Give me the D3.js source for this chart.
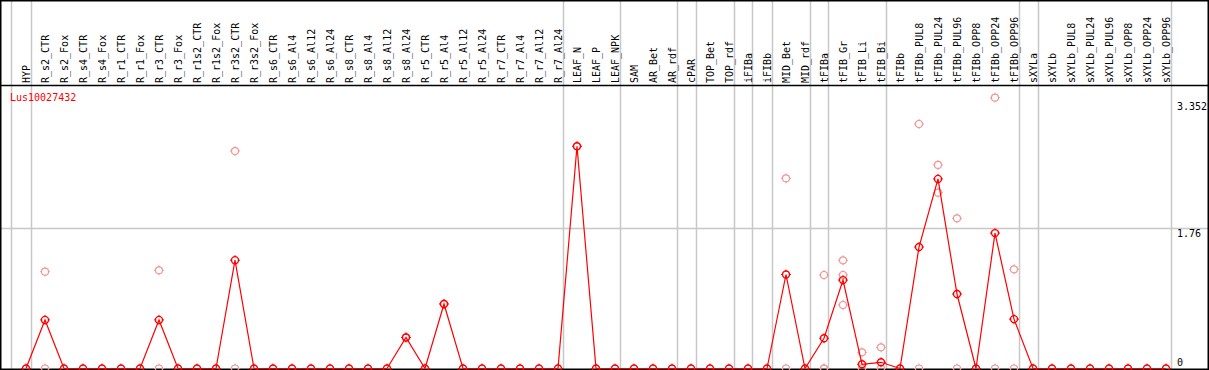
<!DOCTYPE html>
<html>
<head>
<meta charset="utf-8">
<script src="https://cdn.jsdelivr.net/npm/d3@7"></script>
<style>
  body { margin: 0; background: #fff; }
  text { font-family: "DejaVu Sans Mono", monospace; font-size: 10px; }
</style>
</head>
<body>
<svg id="chart"></svg>
<script>
// sample names (columns)
var samples = ["HYP",
    "R_s2_CTR", "R_s2_Fox", "R_s4_CTR", "R_s4_Fox", "R_r1_CTR", "R_r1_Fox", "R_r3_CTR", "R_r3_Fox",
    "R_r1s2_CTR", "R_r1s2_Fox", "R_r3s2_CTR", "R_r3s2_Fox",
    "R_s6_CTR", "R_s6_Al4", "R_s6_Al12", "R_s6_Al24", "R_s8_CTR", "R_s8_Al4", "R_s8_Al12", "R_s8_Al24",
    "R_r5_CTR", "R_r5_Al4", "R_r5_Al12", "R_r5_Al24", "R_r7_CTR", "R_r7_Al4", "R_r7_Al12", "R_r7_Al24",
    "LEAF_N", "LEAF_P", "LEAF_NPK", "SAM", "AR_Bet", "AR_rdf", "cPAR", "TOP_Bet", "TOP_rdf",
    "iFIBa", "iFIBb", "MID_Bet", "MID_rdf", "tFIBa", "tFIB_Gr", "tFIB_Li", "tFIB_Bi",
    "tFIBb", "tFIBb_PUL8", "tFIBb_PUL24", "tFIBb_PUL96", "tFIBb_OPP8", "tFIBb_OPP24", "tFIBb_OPP96",
    "sXYLa", "sXYLb", "sXYLb_PUL8", "sXYLb_PUL24", "sXYLb_PUL96", "sXYLb_OPP8", "sXYLb_OPP24", "sXYLb_OPP96"];

// mean expression per sample (red line)
var meanValues = [0,
    0.61, 0, 0, 0, 0, 0, 0.61, 0,
    0, 0, 1.36, 0,
    0, 0, 0, 0, 0, 0, 0, 0.39,
    0, 0.81, 0, 0, 0, 0, 0, 0,
    2.79, 0, 0, 0, 0, 0, 0, 0, 0,
    0, 0, 1.18, 0, 0.38, 1.11, 0.053, 0.078,
    0, 1.525, 2.38, 0.935, 0, 1.70, 0.62,
    0, 0, 0, 0, 0, 0, 0, 0];

// replicate values (pink circles): sample index + value
var repIndex = [1, 1, 7, 7, 11, 11, 20, 22, 29, 40, 40, 42, 42, 42, 43, 43, 43,
    44, 44, 45, 45, 47, 47, 48, 48, 49, 49, 51, 51, 52, 52];
var repValue = [1.215, 0, 1.233, 0, 2.73, 0, 0.39, 0.81, 2.79, 2.387, 0, 1.174, 0, 0, 1.358, 1.174, 0.797,
    0.203, 0, 0.266, 0, 3.069, 0, 2.555, 2.207, 1.885, 0, 3.40, 0, 1.245, 0];

// separators drawn after these column indexes
var groupEnds = [-1, 0, 28, 31, 34, 35, 37, 38, 39, 41, 42, 45, 52, 53, 60];

var yTicks = [0, 1.76, 3.352];
var geneName = "Lus10027432";

var width = 1209, height = 370,
    headerBottom = 85, plotBottom = 368.5;

var svg = d3.select("#chart")
    .attr("width", width)
    .attr("height", height);

var x = d3.scaleLinear().domain([0, samples.length - 1]).range([26, 26 + 19 * (samples.length - 1)]);
var y = d3.scaleLinear().domain([0, 3.352]).range([plotBottom, plotBottom - 3.352 * 79.66]);

// group separators
svg.selectAll(".sep")
    .data(groupEnds)
    .enter().append("line")
    .attr("x1", function (d) { return Math.round(x(d) + 4.5) + 0.5; })
    .attr("x2", function (d) { return Math.round(x(d) + 4.5) + 0.5; })
    .attr("y1", 0).attr("y2", 369)
    .attr("stroke", "#c8c8c8").attr("stroke-width", 1.5);

// horizontal grid at middle tick
svg.append("line")
    .attr("x1", 0).attr("x2", width)
    .attr("y1", Math.round(y(1.76)) + 0.5).attr("y2", Math.round(y(1.76)) + 0.5)
    .attr("stroke", "#c8c8c8").attr("stroke-width", 1.5);

// frame
svg.append("line").attr("x1", 0).attr("x2", width).attr("y1", 0.75).attr("y2", 0.75)
    .attr("stroke", "#000").attr("stroke-width", 1.5);
svg.append("line").attr("x1", 0).attr("x2", width).attr("y1", headerBottom + 0.5).attr("y2", headerBottom + 0.5)
    .attr("stroke", "#000").attr("stroke-width", 1.5);
svg.append("line").attr("x1", 0).attr("x2", width).attr("y1", 369.25).attr("y2", 369.25)
    .attr("stroke", "#000").attr("stroke-width", 1.5);
svg.append("line").attr("x1", 0.75).attr("x2", 0.75).attr("y1", 0).attr("y2", height)
    .attr("stroke", "#000").attr("stroke-width", 1.5);
svg.append("line").attr("x1", 1208.25).attr("x2", 1208.25).attr("y1", 0).attr("y2", height)
    .attr("stroke", "#000").attr("stroke-width", 1.5);

// column labels
svg.selectAll(".lab")
    .data(samples)
    .enter().append("text")
    .attr("class", "lab")
    .attr("transform", function (d, i) {
        return "translate(" + (x(i) + 4) + ",83) rotate(-90)";
    })
    .attr("fill", "#000")
    .text(function (d) { return d; });

// y tick labels on the right
svg.selectAll(".ytick")
    .data(yTicks)
    .enter().append("text")
    .attr("x", 1177)
    .attr("y", function (d) {
        return d === 0 ? y(d) - 3 : y(d) + 9;
    })
    .attr("fill", "#000")
    .text(function (d) { return d; });

// gene name
svg.append("text")
    .attr("x", 10).attr("y", 100.5)
    .attr("fill", "#ff0000")
    .text(geneName);

function marker(g, color, sw) {
    g.append("circle").attr("r", 3.5)
        .attr("fill", "none").attr("stroke", color).attr("stroke-width", sw);
    [[0, -1], [0, 1], [-1, 0], [1, 0]].forEach(function (v) {
        g.append("line")
            .attr("x1", v[0] * 3).attr("y1", v[1] * 3)
            .attr("x2", v[0] * 5).attr("y2", v[1] * 5)
            .attr("stroke", color).attr("stroke-width", 1);
    });
}

// replicates
var reps = repIndex.map(function (d, i) { return {i: d, v: repValue[i]}; });
svg.selectAll(".rep")
    .data(reps)
    .enter().append("g")
    .attr("class", "rep")
    .attr("transform", function (d) { return "translate(" + x(d.i) + "," + y(d.v) + ")"; })
    .each(function () { marker(d3.select(this), "#f09898", 1.2); });

// mean line
var line = d3.line()
    .x(function (d, i) { return x(i); })
    .y(function (d) { return y(d); });

svg.append("path")
    .datum(meanValues)
    .attr("d", line)
    .attr("fill", "none")
    .attr("stroke", "#ff0000")
    .attr("stroke-width", 1.2);

svg.selectAll(".pt")
    .data(meanValues)
    .enter().append("g")
    .attr("class", "pt")
    .attr("transform", function (d, i) { return "translate(" + x(i) + "," + y(d) + ")"; })
    .each(function () { marker(d3.select(this), "#ff0000", 1.4); });
</script>
</body>
</html>
